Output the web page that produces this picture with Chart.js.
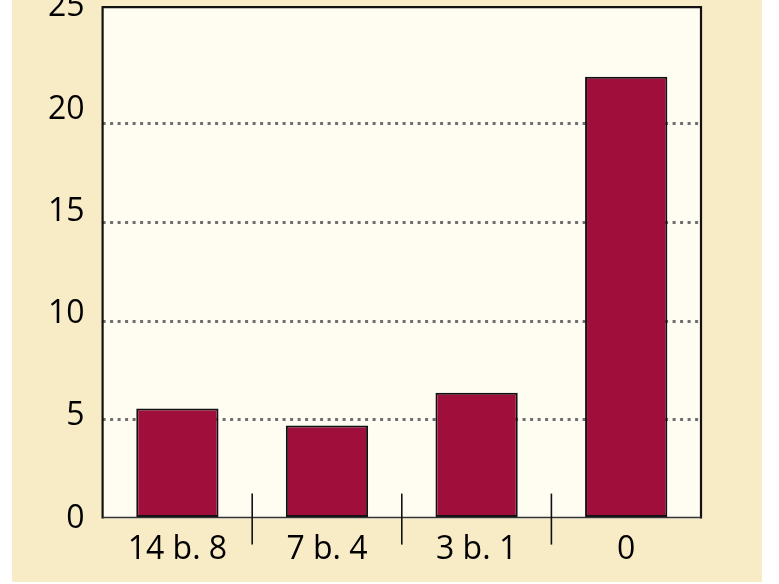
<!DOCTYPE html>
<html><head><meta charset="utf-8">
<script src="https://cdn.jsdelivr.net/npm/chart.js@4/dist/chart.umd.min.js"></script>
<style>
html,body{margin:0;padding:0;background:#fff;width:779px;height:584px;overflow:hidden;}
#panel{position:absolute;left:12px;top:0;width:750px;height:582px;background:#F8ECC6;}
#wrap{position:absolute;left:0;top:-22px;width:779px;height:622px;}
</style></head>
<body>
<div id="panel"></div>
<div id="wrap"><canvas id="c" width="779" height="622"></canvas></div>
<script>
const categories = ["14 b. 8", "7 b. 4", "3 b. 1", "0"];
const values = [5.57, 4.71, 6.38, 22.38];
const yTickLabels = [0, 5, 10, 15, 20, 25];

const framePlugin = {
  id: 'frame',
  beforeDraw(chart) {
    const a = chart.chartArea, ctx = chart.ctx;
    ctx.save();
    ctx.fillStyle = '#FFFCF2';
    ctx.fillRect(a.left, a.top, a.right - a.left, a.bottom - a.top);
    ctx.restore();
  },
  afterDraw(chart) {
    const a = chart.chartArea, ctx = chart.ctx, x = chart.scales.x;
    ctx.save();
    ctx.strokeStyle = '#111';
    ctx.lineWidth = 2.2;
    ctx.beginPath();
    ctx.moveTo(a.left, a.bottom); ctx.lineTo(a.left, a.top);
    ctx.lineTo(a.right, a.top); ctx.lineTo(a.right, a.bottom);
    ctx.stroke();
    ctx.lineWidth = 1.5;
    ctx.strokeStyle = '#333';
    ctx.beginPath();
    ctx.moveTo(a.left, a.bottom - 1); ctx.lineTo(a.right, a.bottom - 1);
    ctx.stroke();
    ctx.lineWidth = 1.6;
    ctx.strokeStyle = '#111';
    for (let i = 0; i < categories.length - 1; i++) {
      const px = (x.getPixelForValue(i) + x.getPixelForValue(i + 1)) / 2;
      ctx.beginPath();
      ctx.moveTo(px, a.bottom - 25); ctx.lineTo(px, a.bottom + 26);
      ctx.stroke();
    }
    ctx.restore();
  }
};

new Chart(document.getElementById('c'), {
  type: 'bar',
  data: {
    labels: categories,
    datasets: [{
      data: values,
      yAxisID: 'yg',
      backgroundColor: '#A00F3B',
      borderColor: '#111',
      borderWidth: 2,
      borderSkipped: false,
      barPercentage: 0.55,
      categoryPercentage: 1.0
    }]
  },
  options: {
    responsive: false,
    animation: false,
    devicePixelRatio: 1,
    layout: { padding: { left: 38, right: 78, top: 0, bottom: 27 } },
    plugins: { legend: { display: false }, tooltip: { enabled: false } },
    scales: {
      x: {
        grid: { display: false },
        border: { display: false },
        ticks: { color: '#000', padding: 4, font: { family: 'Open Sans', size: 32 } }
      },
      y: {
        position: 'left',
        min: 0, max: 25,
        afterBuildTicks(s) { s.ticks = yTickLabels.map(v => ({ value: v })); },
        grid: { display: false },
        border: { display: false },
        ticks: { color: '#000', padding: 10, font: { family: 'Open Sans', size: 32 } }
      },
      yg: {
        position: 'right',
        min: 0, max: 25.9,
        ticks: { display: false, stepSize: 5 },
        border: { display: false, dash: [3, 4.5] },
        grid: {
          drawTicks: false,
          lineWidth: 3,
          color: c => (c.tick && (c.tick.value === 0 || c.tick.value >= 25)) ? 'rgba(0,0,0,0)' : '#6e6e6e'
        }
      }
    }
  },
  plugins: [framePlugin]
});
</script>
</body></html>
